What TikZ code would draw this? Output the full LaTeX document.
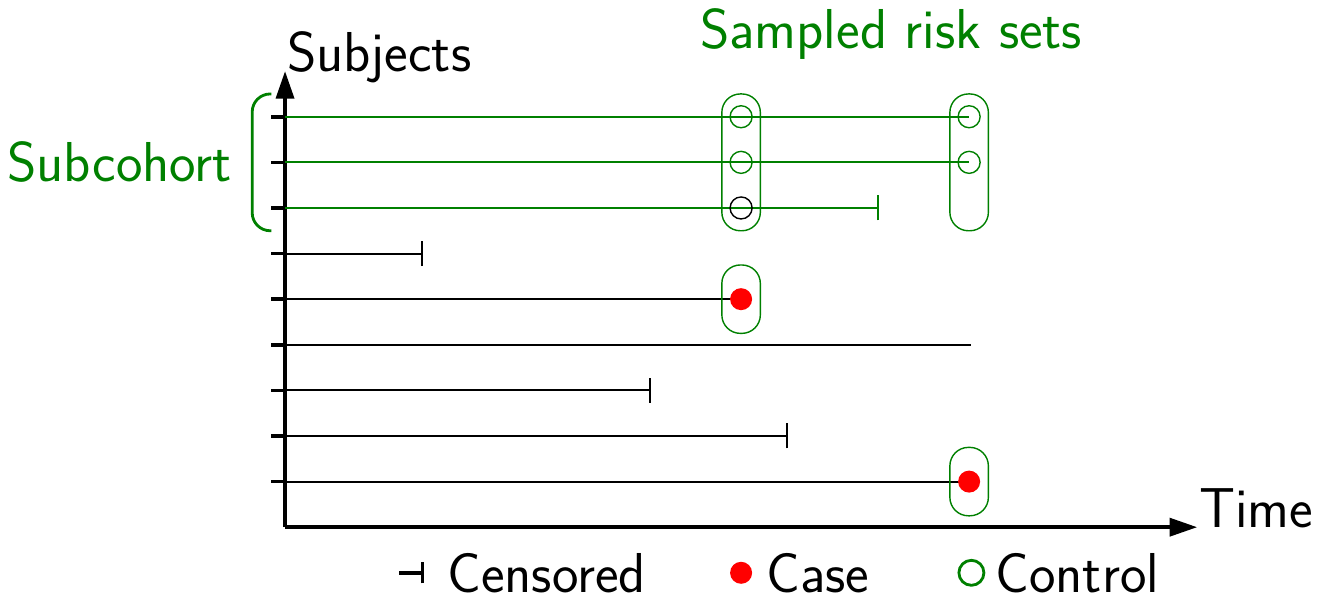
\documentclass[tikz,border=0pt]{standalone}
\usepackage{fontspec}
\usepackage{xcolor}
\usetikzlibrary{arrows.meta}
\definecolor{subgreen}{RGB}{0,128,0}

\begin{document}
\begin{tikzpicture}[x=0.912cm,y=0.912cm,
    every node/.style={font=\sffamily\fontsize{32}{38}\selectfont,inner sep=0pt},
    axis/.style={line width=2pt},
    life/.style={line width=1.1pt},
    case/.style={circle,fill=red,minimum size=0.44cm},
    control/.style={circle,draw=subgreen,line width=0.8pt,minimum size=0.44cm},
    riskset/.style={draw=subgreen,line width=0.8pt,rounded corners=0.37cm,
      minimum width=0.77cm}]
  \useasboundingbox (-6.25,-1.69) rectangle (22.65,11.56);
  % axes
  \draw[axis,-{Triangle[length=0.55cm,width=0.36cm]}] (0,0) coordinate (O)
    -- (20,0) coordinate (tmax);
  \draw[axis,-{Triangle[length=0.55cm,width=0.36cm]}] (O)
    -- (0,10) coordinate (smax);
  \node (time) [anchor=base west] at ([xshift=1pt]tmax) {Time};
  \node (subj) [anchor=base west] at ([xshift=1pt]smax) {Subjects};
  \foreach \i in {1,...,9}
    \draw[axis] (-0.3,\i) -- (0,\i) coordinate (s\i);
  % follow-up of each subject
  \foreach \i/\t/\c in {1/15/black,2/11/black,3/8/black,4/15.04/black,
      5/10/black,6/3/black,7/13/subgreen,8/15/subgreen,9/15/subgreen}
    \draw[life,\c] (s\i) -- (\t,\i) coordinate (e\i);
  \foreach \i/\c in {2/black,3/black,6/black,7/subgreen}
    \draw[life,\c] ([yshift=-0.25cm]e\i) -- ([yshift=0.25cm]e\i);
  % cases and controls
  \node (case5) [case] at (e5) {};
  \node (case1) [case] at (e1) {};
  \node (ctl9a) [control] at (10,9) {};
  \node (ctl8a) [control] at (10,8) {};
  \node (ctl7a) [control,draw=black] at (10,7) {};
  \node (ctl9b) [control] at (e9) {};
  \node (ctl8b) [control] at (e8) {};
  % sampled risk sets
  \node (rs10) [riskset,minimum height=2.736cm] at (10,8) {};
  \node (rs15) [riskset,minimum height=2.736cm] at (15,8) {};
  \node (rs10c) [riskset,minimum height=1.368cm] at (case5) {};
  \node (rs15c) [riskset,minimum height=1.368cm] at (case1) {};
  \node (rstitle) [anchor=base,text=subgreen] at (13.29,10.5) {Sampled risk sets};
  % subcohort
  \draw[subgreen,line width=1.6pt,rounded corners=0.36cm]
    (-0.3,9.5) -- (-0.72,9.5) -- (-0.72,6.5) -- (-0.3,6.5);
  \node (sub) [anchor=east,text=subgreen] at (-1.16,8) {Subcohort};
  % legend
  \draw[axis] (2.5,-1) -- (3.02,-1) coordinate (lcens);
  \draw[line width=1.6pt] ([yshift=-0.21cm]lcens) -- ([yshift=0.21cm]lcens);
  \node (lcase) [case] at (10,-1) {};
  \node (lctl) [control,line width=1.6pt,minimum size=0.5cm] at (15.05,-1) {};
  \node (tcens) [anchor=west] at (3.55,-1) {Censored};
  \node (tcase) [anchor=west] at (10.55,-1) {Case};
  \node (tctl) [anchor=west] at (15.57,-1) {Control};
\end{tikzpicture}
\end{document}
